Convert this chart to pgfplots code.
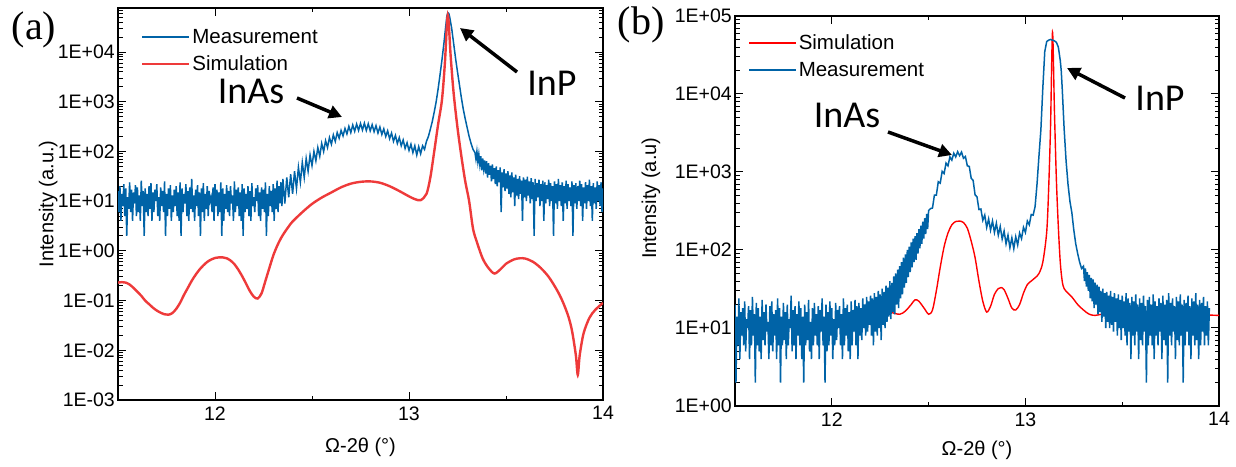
\documentclass[border=0pt]{standalone}
\usepackage{pgfplots}
\pgfplotsset{compat=1.18}
\usepackage{fontspec}
\setmainfont{Liberation Sans}
\newfontfamily\serifa{Liberation Serif}
\newfontfamily\calib{Carlito}
\usetikzlibrary{arrows.meta}
\definecolor{mblue}{RGB}{0,99,167}
\definecolor{sred}{RGB}{238,58,58}
\definecolor{sredb}{RGB}{255,0,0}
\pgfplotsset{
 myaxis/.style={
  scale only axis, xmin=11.5, xmax=14,
  xtick={12,13,14}, minor xtick={12.5,13.5},
  axis line style={line width=1.2bp},
  every tick/.style={black, line width=1bp},
  major tick length=8bp, minor tick length=4.5bp,
  tick label style={font=\fontsize{19.5bp}{22bp}\selectfont},
  /pgf/number format/assume math mode=true,
  yticklabel style={inner sep=0pt, xshift=-3bp},
  xticklabel style={yshift=-3bp},
  label style={font=\fontsize{20bp}{24bp}\selectfont},
  legend style={draw=none, fill=none, font=\fontsize{20.5bp}{24bp}\selectfont, inner sep=0pt, row sep=7bp, cells={anchor=west}},
  legend cell align=left,
  legend image code/.code={\draw[##1] (0bp,0bp) -- (47bp,0bp);},
 }
}
\begin{document}
\begin{tikzpicture}
\path[use as bounding box] (0,0) rectangle (1236bp,467bp);
% ---------------- panel (a)
\begin{semilogyaxis}[myaxis, at={(118bp,67bp)}, anchor=south west, width=485bp, height=392bp,
  ymin=1e-3, ymax=7.7e4,
  ytick={1e-3,1e-2,1e-1,1,10,100,1000,10000},
  yticklabels={1E-03,1E-02,1E-01,1E+00,1E+01,1E+02,1E+03,1E+04},
  minor ytick={2e-3,3e-3,4e-3,5e-3,6e-3,7e-3,8e-3,9e-3,2e-2,3e-2,4e-2,5e-2,6e-2,7e-2,8e-2,9e-2,
    0.2,0.3,0.4,0.5,0.6,0.7,0.8,0.9,2,3,4,5,6,7,8,9,20,30,40,50,60,70,80,90,
    200,300,400,500,600,700,800,900,2000,3000,4000,5000,6000,7000,8000,9000,20000,30000,40000,50000,60000,70000},
  xlabel={Ω-2θ (°)}, ylabel={Intensity (a.u.)},
  xlabel style={at={(axis description cs:0.5,-0.12)}, anchor=center},
  ylabel style={at={(axis description cs:-0.144,0.5)}, anchor=center},
  legend style={at={(axis description cs:0.047,0.952)}, anchor=north west},
]
\addplot[mblue, line width=1.5bp] coordinates {
(11.50,16)(11.505,6)(11.51,20)(11.515,4)(11.52,14)(11.525,8)(11.53,22)(11.535,5)(11.54,18)(11.545,2)
(11.55,12)(11.555,7)(11.56,24)(11.565,6)(11.57,17)(11.575,4)(11.58,15)(11.585,9)(11.59,21)(11.595,5)
(11.60,19)(11.605,6)(11.61,13)(11.615,4)(11.62,26)(11.625,8)(11.63,16)(11.635,2)(11.64,18)(11.645,6)
(11.65,14)(11.655,5)(11.66,20)(11.665,7)(11.67,23)(11.675,4)(11.68,15)(11.685,6)(11.69,17)(11.695,10)
(11.70,22)(11.705,5)(11.71,12)(11.715,4)(11.72,19)(11.725,8)(11.73,16)(11.735,6)(11.74,25)(11.745,2)
(11.75,14)(11.755,5)(11.76,18)(11.765,7)(11.77,21)(11.775,4)(11.78,13)(11.785,6)(11.79,17)(11.795,8)
(11.80,20)(11.805,5)(11.81,15)(11.815,4)(11.82,24)(11.825,2)(11.83,18)(11.835,6)(11.84,14)(11.845,9)
(11.85,22)(11.855,5)(11.86,16)(11.865,4)(11.87,19)(11.875,7)(11.88,28)(11.885,6)(11.89,13)(11.895,4)
(11.90,17)(11.905,8)(11.91,21)(11.915,5)(11.92,15)(11.925,2)(11.93,18)(11.935,6)(11.94,23)(11.945,4)
(11.95,14)(11.955,7)(11.96,20)(11.965,5)(11.97,16)(11.975,10)(11.98,12)(11.985,6)(11.99,19)(11.995,4)
(12.00,22)(12.005,8)(12.01,17)(12.015,5)(12.02,15)(12.025,6)(12.03,24)(12.035,2)(12.04,18)(12.045,4)
(12.05,14)(12.055,7)(12.06,21)(12.065,6)(12.07,16)(12.075,5)(12.08,20)(12.085,9)(12.09,13)(12.095,4)
(12.10,25)(12.105,6)(12.11,17)(12.115,8)(12.12,19)(12.125,5)(12.13,15)(12.135,4)(12.14,22)(12.145,2)
(12.15,18)(12.155,6)(12.16,14)(12.165,7)(12.17,20)(12.175,5)(12.18,16)(12.185,4)(12.19,23)(12.195,8)
(12.20,12)(12.205,6)(12.21,18)(12.215,10)(12.22,21)(12.225,5)(12.23,15)(12.235,4)(12.24,19)(12.245,7)
(12.25,17)(12.255,6)(12.26,24)(12.265,2)(12.27,14)(12.275,5)(12.28,20)(12.285,8)(12.29,16)(12.295,6)
(12.30,22)(12.305,4)(12.31,18)(12.315,7)(12.32,26)(12.325,6)(12.33,20)(12.335,9)(12.34,24)(12.345,8)
(12.35,28)(12.36,9)(12.37,30)(12.38,12)(12.39,35)(12.40,14)(12.41,40)(12.42,18)(12.43,48)(12.44,24)
(12.45,60)(12.46,30)(12.47,72)(12.48,40)(12.49,85)(12.50,52)(12.51,100)(12.52,65)(12.53,120)(12.54,80)
(12.55,145)(12.56,100)(12.57,165)(12.58,120)(12.59,190)(12.60,140)(12.61,215)(12.62,160)(12.63,240)(12.64,185)
(12.65,265)(12.66,205)(12.67,290)(12.68,225)(12.69,320)(12.70,240)(12.71,340)(12.72,255)(12.73,355)(12.74,265)
(12.75,365)(12.76,270)(12.77,370)(12.78,265)(12.79,360)(12.80,260)(12.81,345)(12.82,250)(12.83,330)(12.84,235)
(12.85,310)(12.86,220)(12.87,285)(12.88,200)(12.89,260)(12.90,180)(12.91,235)(12.92,160)(12.93,210)(12.94,145)
(12.95,190)(12.96,130)(12.97,170)(12.98,115)(12.99,150)(13.00,105)(13.01,140)(13.02,95)(13.03,130)(13.04,85)
(13.05,125)(13.06,90)(13.07,130)(13.08,110)(13.09,160)
(13.10,200)(13.11,280)(13.12,400)(13.13,620)(13.14,1000)(13.15,1800)(13.16,3500)(13.17,7000)(13.18,15000)(13.19,35000)
(13.195,52000)(13.20,62000)(13.205,60000)(13.21,50000)(13.22,30000)(13.23,15000)(13.24,7500)(13.25,4000)(13.26,2200)(13.27,1200)
(13.28,700)(13.29,450)(13.30,300)(13.31,200)(13.32,145)(13.33,110)
(13.34,95)(13.345,70)(13.35,100)(13.355,62)(13.36,88)(13.365,55)(13.37,80)(13.375,42)(13.38,72)(13.385,45)
(13.39,66)(13.395,36)(13.40,64)(13.405,30)(13.41,58)(13.415,34)(13.42,52)(13.425,25)(13.43,55)(13.435,28)
(13.44,46)(13.445,22)(13.45,50)(13.455,20)(13.46,42)(13.465,24)(13.47,48)(13.475,6)(13.48,38)(13.485,19)
(13.49,44)(13.495,16)(13.50,36)(13.505,18)(13.51,40)(13.515,14)(13.52,33)(13.525,12)(13.53,38)(13.535,15)
(13.54,30)(13.545,8)(13.55,34)(13.555,13)(13.56,28)(13.565,11)(13.57,32)(13.575,14)(13.58,26)(13.585,4)
(13.59,30)(13.595,12)(13.60,27)(13.605,10)(13.61,31)(13.615,13)(13.62,25)(13.625,9)(13.63,29)(13.635,11)
(13.64,24)(13.645,2)(13.65,28)(13.655,10)(13.66,23)(13.665,12)(13.67,27)(13.675,8)(13.68,22)(13.685,10)
(13.69,26)(13.695,4)(13.70,24)(13.705,9)(13.71,21)(13.715,11)(13.72,27)(13.725,8)(13.73,23)(13.735,10)
(13.74,20)(13.745,2)(13.75,25)(13.755,9)(13.76,22)(13.765,7)(13.77,28)(13.775,10)(13.78,21)(13.785,8)
(13.79,24)(13.795,4)(13.80,20)(13.805,9)(13.81,26)(13.815,7)(13.82,22)(13.825,10)(13.83,19)(13.835,8)
(13.84,25)(13.845,2)(13.85,21)(13.855,9)(13.86,23)(13.865,7)(13.87,20)(13.875,10)(13.88,26)(13.885,8)
(13.89,22)(13.895,4)(13.90,19)(13.905,9)(13.91,24)(13.915,7)(13.92,21)(13.925,10)(13.93,27)(13.935,8)
(13.94,20)(13.945,4)(13.95,23)(13.955,9)(13.96,19)(13.965,7)(13.97,25)(13.975,10)(13.98,21)(13.985,8)
(13.99,24)(13.995,6)(14.00,18)
};
\addlegendentry{Measurement}
\addplot[sred, line width=2.4bp, smooth] coordinates {
(11.50,0.23)(11.52,0.235)(11.54,0.23)(11.56,0.21)(11.58,0.18)(11.60,0.15)(11.62,0.125)(11.64,0.10)(11.66,0.085)(11.68,0.072)
(11.70,0.063)(11.72,0.057)(11.74,0.053)(11.76,0.052)(11.78,0.056)(11.80,0.068)(11.82,0.09)(11.84,0.13)(11.86,0.18)(11.88,0.25)
(11.90,0.33)(11.92,0.42)(11.94,0.51)(11.96,0.60)(11.98,0.67)(12.00,0.72)(12.02,0.74)(12.04,0.74)(12.06,0.71)(12.08,0.64)
(12.10,0.54)(12.12,0.42)(12.14,0.31)(12.16,0.22)(12.18,0.155)(12.20,0.12)(12.22,0.11)(12.24,0.14)(12.26,0.25)(12.28,0.45)
(12.30,0.8)(12.32,1.25)(12.34,1.8)(12.36,2.4)(12.38,3.1)(12.40,3.9)(12.45,6)(12.50,8.8)(12.55,11.8)(12.60,15)
(12.65,19)(12.70,22.5)(12.75,24.5)(12.80,25)(12.85,23.5)(12.90,20)(12.95,16)(13.00,12.5)(13.03,11)(13.06,10.5)
(13.09,14)(13.11,30)(13.13,100)(13.15,350)(13.17,1100)(13.185,6000)(13.20,55000)(13.215,8000)(13.23,1500)(13.25,300)
(13.27,80)(13.29,25)(13.31,10)(13.33,2.8)(13.35,1.5)(13.38,0.7)(13.41,0.45)(13.44,0.35)(13.47,0.42)(13.50,0.55)
(13.54,0.67)(13.57,0.71)(13.60,0.7)(13.64,0.6)(13.68,0.45)(13.72,0.3)(13.76,0.17)(13.79,0.1)(13.82,0.05)(13.84,0.025)
(13.86,0.008)(13.87,0.0032)(13.88,0.008)(13.90,0.022)(13.93,0.045)(13.96,0.065)(14.00,0.09)
};
\addlegendentry{Simulation}
\end{semilogyaxis}
% ---------------- panel (b)
\begin{semilogyaxis}[myaxis, at={(735bp,61bp)}, anchor=south west, width=484bp, height=390bp,
  ymin=1, ymax=1e5,
  ytick={1,10,100,1000,10000,100000},
  yticklabels={1E+00,1E+01,1E+02,1E+03,1E+04,1E+05},
  minor ytick={2,3,4,5,6,7,8,9,20,30,40,50,60,70,80,90,
    200,300,400,500,600,700,800,900,2000,3000,4000,5000,6000,7000,8000,9000,20000,30000,40000,50000,60000,70000,80000,90000},
  xlabel={Ω-2θ (°)}, ylabel={Intensity (a.u)},
  xlabel style={at={(axis description cs:0.5,-0.113)}, anchor=center},
  ylabel style={at={(axis description cs:-0.1736,0.533)}, anchor=center},
  legend style={at={(axis description cs:0.027,0.957)}, anchor=north west},
]
\addplot[sredb, line width=1.4bp, smooth] coordinates {
(12.25,17)(12.30,16)(12.35,15)(12.38,16.5)(12.41,20)(12.43,23)(12.45,22)(12.48,17.5)(12.50,15)(12.52,17)
(12.54,30)(12.56,60)(12.58,110)(12.60,165)(12.62,210)(12.64,232)(12.66,235)(12.68,225)(12.70,190)(12.72,130)
(12.74,80)(12.76,40)(12.78,22)(12.80,16)(12.82,19)(12.84,27)(12.86,32)(12.875,33)(12.89,31)(12.91,24)
(12.93,18)(12.95,17)(12.97,20)(12.99,28)(13.01,36)(13.03,40)(13.05,44)(13.07,50)(13.09,70)(13.11,170)
(13.12,600)(13.13,4000)(13.14,62000)(13.15,6000)(13.16,800)(13.17,200)(13.18,70)(13.19,40)(13.20,32)(13.22,28)
(13.24,25)(13.27,20)(13.30,17)(13.33,15)(13.36,14.5)(13.40,15)(13.50,15)(13.60,15)(13.80,15)(14.00,14.5)
};
\addlegendentry{Simulation}
\addplot[mblue, line width=1.5bp] coordinates {
(11.50,20)(11.505,2)(11.51,14)(11.515,6)(11.52,24)(11.525,4)(11.53,16)(11.535,8)(11.54,18)(11.545,6)
(11.55,22)(11.555,5)(11.56,13)(11.565,10)(11.57,19)(11.575,4)(11.58,17)(11.585,6)(11.59,25)(11.595,8)
(11.60,15)(11.605,2)(11.61,21)(11.615,6)(11.62,18)(11.625,5)(11.63,14)(11.635,4)(11.64,23)(11.645,7)
(11.65,16)(11.655,6)(11.66,20)(11.665,9)(11.67,12)(11.675,4)(11.68,19)(11.685,6)(11.69,22)(11.695,5)
(11.70,15)(11.705,8)(11.71,17)(11.715,4)(11.72,24)(11.725,6)(11.73,18)(11.735,2)(11.74,14)(11.745,6)
(11.75,21)(11.755,7)(11.76,16)(11.765,4)(11.77,20)(11.775,6)(11.78,13)(11.785,10)(11.79,26)(11.795,5)
(11.80,17)(11.805,6)(11.81,19)(11.815,4)(11.82,15)(11.825,8)(11.83,22)(11.835,6)(11.84,18)(11.845,4)
(11.85,14)(11.855,2)(11.86,20)(11.865,6)(11.87,16)(11.875,7)(11.88,23)(11.885,5)(11.89,12)(11.895,4)
(11.90,18)(11.905,6)(11.91,21)(11.915,8)(11.92,15)(11.925,6)(11.93,19)(11.935,4)(11.94,17)(11.945,9)
(11.95,24)(11.955,6)(11.96,14)(11.965,2)(11.97,20)(11.975,5)(11.98,16)(11.985,6)(11.99,22)(11.995,8)
(12.00,18)(12.005,4)(12.01,13)(12.015,6)(12.02,21)(12.025,7)(12.03,17)(12.035,10)(12.04,19)(12.045,6)
(12.05,15)(12.055,4)(12.06,24)(12.065,6)(12.07,18)(12.075,8)(12.08,20)(12.085,5)(12.09,16)(12.095,4)
(12.10,22)(12.105,6)(12.11,17)(12.115,9)(12.12,23)(12.125,6)(12.13,19)(12.135,4)(12.14,21)(12.145,8)
(12.15,18)(12.155,7)(12.16,24)(12.165,10)(12.17,20)(12.175,8)(12.18,25)(12.185,9)(12.19,22)(12.195,11)
(12.20,26)(12.205,8)(12.21,24)(12.215,6)(12.22,28)(12.225,9)(12.23,25)(12.235,8)(12.24,30)(12.245,10)
(12.25,27)(12.255,7)(12.26,32)(12.265,11)(12.27,29)(12.275,10)(12.28,35)(12.285,12)(12.29,33)(12.295,14)
(12.30,40)(12.305,13)(12.31,38)(12.315,16)(12.32,46)(12.325,15)(12.33,50)(12.335,20)(12.34,56)(12.345,18)
(12.35,62)(12.355,24)(12.36,70)(12.365,27)(12.37,80)(12.375,33)(12.38,88)(12.385,38)(12.39,100)(12.395,45)
(12.40,110)(12.405,52)(12.41,125)(12.415,60)(12.42,140)(12.425,70)(12.43,150)(12.435,75)(12.44,165)(12.445,90)
(12.45,185)(12.455,105)(12.46,205)(12.465,120)(12.47,230)(12.475,140)(12.48,255)(12.485,160)(12.49,290)(12.495,185)
(12.50,320)(12.51,340)(12.52,345)(12.53,505)(12.54,505)(12.55,750)(12.56,720)(12.57,1020)(12.58,955)(12.59,1300)
(12.60,1200)(12.61,1560)(12.62,1420)(12.63,1740)(12.64,1560)(12.65,1820)(12.66,1620)(12.67,1800)(12.68,1500)(12.69,1580)
(12.70,1200)(12.71,1180)(12.72,830)(12.73,780)(12.74,510)(12.75,480)(12.76,330)(12.77,335)(12.78,240)(12.79,280)
(12.80,195)(12.81,250)(12.82,180)(12.83,235)(12.84,168)(12.85,220)(12.86,155)(12.87,200)(12.88,138)(12.89,175)
(12.90,120)(12.91,155)(12.92,107)(12.93,143)(12.94,104)(12.95,148)(12.96,116)(12.97,165)(12.98,140)(12.99,195)
(13.00,168)(13.01,235)(13.02,210)(13.03,285)(13.04,280)(13.05,360)
(13.06,700)(13.07,1600)(13.08,3500)(13.09,12000)(13.10,35000)(13.11,47000)(13.12,49000)(13.13,50000)(13.14,49000)(13.15,48000)
(13.16,46000)(13.17,40000)(13.18,27000)(13.185,20000)(13.19,12000)(13.20,3600)(13.21,1400)(13.22,700)(13.23,420)(13.24,300)
(13.25,180)(13.26,120)(13.27,90)(13.28,70)(13.29,58)
(13.30,62)(13.305,40)(13.31,58)(13.315,34)(13.32,52)(13.325,30)(13.33,48)(13.335,24)(13.34,44)(13.345,22)
(13.35,42)(13.355,18)(13.36,38)(13.365,20)(13.37,36)(13.375,15)(13.38,34)(13.385,16)(13.39,30)(13.395,12)
(13.40,32)(13.405,14)(13.41,28)(13.415,10)(13.42,29)(13.425,12)(13.43,26)(13.435,10)(13.44,30)(13.445,11)
(13.45,25)(13.455,9)(13.46,28)(13.465,12)(13.47,24)(13.475,8)(13.48,27)(13.485,10)(13.49,23)(13.495,7)
(13.50,26)(13.505,10)(13.51,22)(13.515,8)(13.52,28)(13.525,6)(13.53,24)(13.535,9)(13.54,21)(13.545,4)
(13.55,25)(13.555,8)(13.56,22)(13.565,6)(13.57,27)(13.575,9)(13.58,20)(13.585,4)(13.59,24)(13.595,7)
(13.60,21)(13.605,6)(13.61,26)(13.615,9)(13.62,19)(13.625,2)(13.63,23)(13.635,6)(13.64,25)(13.645,8)
(13.65,20)(13.655,6)(13.66,27)(13.665,4)(13.67,22)(13.675,8)(13.68,19)(13.685,6)(13.69,24)(13.695,9)
(13.70,21)(13.705,4)(13.71,26)(13.715,7)(13.72,20)(13.725,6)(13.73,23)(13.735,2)(13.74,28)(13.745,8)
(13.75,21)(13.755,6)(13.76,24)(13.765,9)(13.77,19)(13.775,4)(13.78,25)(13.785,7)(13.79,22)(13.795,6)
(13.80,27)(13.805,8)(13.81,20)(13.815,2)(13.82,23)(13.825,6)(13.83,21)(13.835,9)(13.84,26)(13.845,6)
(13.85,19)(13.855,4)(13.86,24)(13.865,8)(13.87,22)(13.875,6)(13.88,28)(13.885,7)(13.89,20)(13.895,4)
(13.90,23)(13.905,6)(13.91,21)(13.915,9)(13.92,25)(13.925,6)(13.93,19)(13.935,8)(13.94,22)(13.945,6)
(13.95,18)
};
\addlegendentry{Measurement}
\end{semilogyaxis}
% ---------------- annotations
\node[font=\serifa\fontsize{40bp}{44bp}\selectfont] at (34bp,437bp) {(a)};
\node[font=\serifa\fontsize{40bp}{44bp}\selectfont] at (641bp,442bp) {(b)};
\node[font=\calib\fontsize{38bp}{42bp}\selectfont] at (251bp,376bp) {InAs};
\node[font=\calib\fontsize{38bp}{42bp}\selectfont] at (552bp,384bp) {InP};
\node[font=\calib\fontsize{38bp}{42bp}\selectfont] at (847bp,352bp) {InAs};
\node[font=\calib\fontsize{38bp}{42bp}\selectfont] at (1160bp,369bp) {InP};
\draw[line width=3.5bp, -{Triangle[length=13bp,width=13bp]}] (297bp,369bp) -- (342bp,350bp);
\draw[line width=3.5bp, -{Triangle[length=13bp,width=13bp]}] (517bp,395bp) -- (460bp,439bp);
\draw[line width=3.5bp, -{Triangle[length=13bp,width=13bp]}] (888bp,335bp) -- (952bp,312bp);
\draw[line width=3.5bp, -{Triangle[length=13bp,width=13bp]}] (1125bp,369bp) -- (1067bp,399bp);
\end{tikzpicture}
\end{document}
